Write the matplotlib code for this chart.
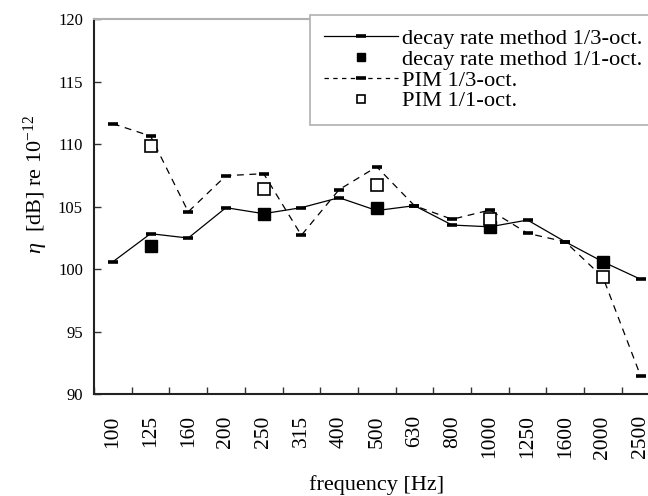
import matplotlib
matplotlib.use("Agg")
import matplotlib.pyplot as plt
from matplotlib.lines import Line2D
from matplotlib.ticker import FixedLocator, NullFormatter

plt.rcParams['font.family'] = ['Liberation Serif', 'DejaVu Serif']
plt.rcParams['mathtext.fontset'] = 'custom'
plt.rcParams['mathtext.rm'] = 'Liberation Serif'
plt.rcParams['mathtext.it'] = 'Liberation Serif:italic'

# third-octave band centre frequencies
bands = ["100", "125", "160", "200", "250", "315", "400", "500",
         "630", "800", "1000", "1250", "1600", "2000", "2500"]

# loss factor, dB re 1e-12
decay_third = [100.6, 102.85, 102.5, 104.93, 104.45, 104.93, 105.73, 104.7,
               105.09, 103.54, 103.4, 103.94, 102.2, 100.6, 99.2]
pim_third = [111.65, 110.66, 104.6, 107.49, 107.65, 102.72, 106.37, 108.2,
             105.09, 104.0, 104.74, 102.88, 102.2, 99.36, 91.46]

# octave bands
oct_bands = ["125", "250", "500", "1000", "2000"]
decay_oct = [101.9, 104.45, 104.88, 103.4, 100.6]
pim_oct = [109.9, 106.4, 106.74, 104.0, 99.36]

labels = ['decay rate method 1/3-oct.', 'decay rate method 1/1-oct.',
          'PIM 1/3-oct.', 'PIM 1/1-oct.']

W, H = 648, 496
fig = plt.figure(figsize=(W / 100, H / 100), dpi=100)

left_px, top_px, bottom_px = 94, 19.3, 394.3
step_px = 37.7
ax = fig.add_axes([left_px / W, 1 - bottom_px / H,
                   len(bands) * step_px / W, (bottom_px - top_px) / H])

x = list(range(len(bands)))
oct_x = [bands.index(b) for b in oct_bands]

dash = (0, (5.5, 4.5))
third_marker = dict(marker='_', ms=6.5, mew=2.6, mec='black')

ax.plot(x, decay_third, color='black', lw=0.9, zorder=3, **third_marker)
ax.plot(oct_x, decay_oct, ls='none', marker='s', ms=8.2, mfc='black',
        mec='black', zorder=4)
ax.plot(x, pim_third, color='black', lw=0.9, ls=dash, zorder=3, **third_marker)
ax.plot(oct_x, pim_oct, ls='none', marker='s', ms=8.2, mfc='white',
        mec='black', mew=1.2, zorder=5)

ax.set_xlim(-0.5, len(bands) - 0.5)
ax.set_ylim(90, 120)
ax.set_yticks(range(90, 121, 5))

ax.set_xticks(x)
ax.set_xticklabels(bands, rotation=90, fontsize=15.5)
ax.tick_params(axis='x', which='major', length=0, pad=15)
ax.xaxis.set_minor_locator(FixedLocator([i - 0.5 for i in range(len(bands) + 1)]))
ax.xaxis.set_minor_formatter(NullFormatter())
ax.tick_params(axis='x', which='minor', direction='in', length=5, width=1,
               color='#333333')
ax.tick_params(axis='y', direction='in', length=5, width=1, color='#333333',
               labelsize=12, pad=8)

for side in ('left', 'bottom'):
    ax.spines[side].set_color('#222222')
    ax.spines[side].set_linewidth(1.5)
for side in ('top', 'right'):
    ax.spines[side].set_color('#b0b0b0')
    ax.spines[side].set_linewidth(1.5)

ax.set_xlabel('frequency [Hz]', fontsize=16)
ax.xaxis.set_label_coords(0.5, -0.215)
ax.set_ylabel(r'$\mathit{\eta}$  [dB] re 10$^{\mathregular{-12}}$', fontsize=16)
ax.yaxis.set_label_coords(-0.077, 0.56)

# legend entries drawn with the same styles as the plotted series
handles = [
    Line2D([], [], color='black', lw=0.9, marker='_', ms=7, mew=2.6),
    Line2D([], [], ls='none', marker='s', ms=6, mfc='black', mec='black'),
    Line2D([], [], color='black', lw=0.9, ls=(0, (3.5, 3.5)), marker='_',
           ms=7, mew=2.6),
    Line2D([], [], ls='none', marker='s', ms=6, mfc='white', mec='black', mew=1.2),
]
leg = ax.legend(handles, labels, loc='upper left',
                bbox_to_anchor=(0.382, 1.0115), fontsize=16.2,
                frameon=True, fancybox=False, edgecolor='#b0b0b0', framealpha=1,
                handlelength=3.3, labelspacing=0.0, borderpad=0.6,
                handletextpad=0.2, borderaxespad=0)
leg.get_frame().set_linewidth(1.2)

fig.savefig('out.png', dpi=100)
